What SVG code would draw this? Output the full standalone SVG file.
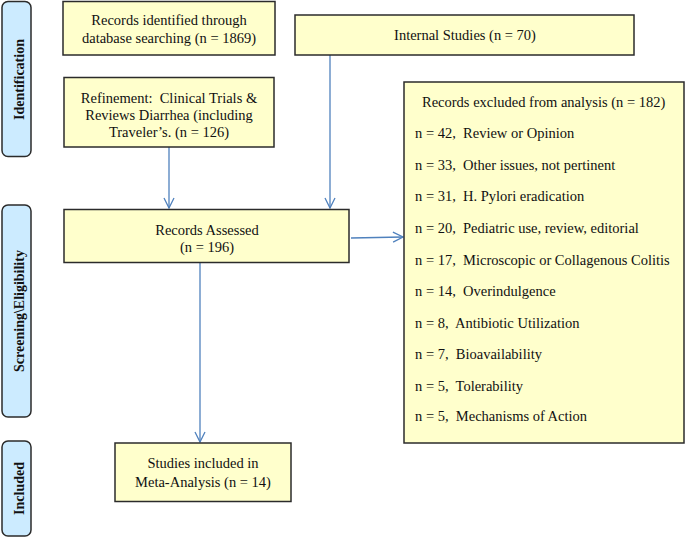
<svg xmlns="http://www.w3.org/2000/svg" width="685" height="538" viewBox="0 0 685 538">
<defs>
<style>
.box{fill:#FFFFCC;stroke:#2b2b2b;stroke-width:1.5}
.side{fill:#CCEBFF;stroke:#2b2b2b;stroke-width:1.5}
.t{font-family:"Liberation Serif","Times New Roman",serif;font-size:14.5px;fill:#111;white-space:pre}
.c{text-anchor:middle}
.s{font-family:"Liberation Serif","Times New Roman",serif;font-size:14px;font-weight:bold;fill:#111;text-anchor:middle}
.a{stroke:#4F81BD;stroke-width:1.3;fill:none;marker-end:url(#ah)}
</style>
<marker id="ah" viewBox="0 0 12 12" refX="11" refY="6" markerWidth="12" markerHeight="12" markerUnits="userSpaceOnUse" orient="auto">
<path d="M1,1 L11,6 L1,11" fill="none" stroke="#4F81BD" stroke-width="1.3"/>
</marker>
</defs>
<rect width="685" height="538" fill="#fff"/>
<g id="side-identification">
<rect class="side" x="2" y="1.5" width="29" height="155" rx="6"/>
<text class="s" transform="translate(23.5,79.5) rotate(-90)">Identification</text>
</g>
<g id="side-screening">
<rect class="side" x="2" y="205" width="29" height="212" rx="6"/>
<text class="s" transform="translate(23.5,311) rotate(-90)">Screening\Eligibility</text>
</g>
<g id="side-included">
<rect class="side" x="2" y="441" width="29" height="95" rx="6"/>
<text class="s" transform="translate(23.5,488.5) rotate(-90)">Included</text>
</g>
<g id="connectors">
<line class="a" x1="169" y1="147" x2="169" y2="208"/>
<line class="a" x1="330" y1="55" x2="330" y2="208"/>
<line class="a" x1="351" y1="238" x2="403" y2="237"/>
<line class="a" x1="200" y1="263" x2="200" y2="442"/>
</g>
<g id="records-identified">
<rect class="box" x="63" y="1.5" width="212" height="53.5"/>
<text class="t c" x="169" y="25">Records identified through</text>
<text class="t c" x="169" y="43">database searching (n = 1869)</text>
</g>
<g id="internal-studies">
<rect class="box" x="295" y="15" width="339" height="40"/>
<text class="t c" x="465" y="40">Internal Studies (n = 70)</text>
</g>
<g id="refinement">
<rect class="box" x="64" y="77.5" width="210" height="69.5"/>
<text class="t c" x="169" y="103">Refinement:  Clinical Trials &amp;</text>
<text class="t c" x="169" y="120">Reviews Diarrhea (including</text>
<text class="t c" x="169" y="137">Traveler’s. (n = 126)</text>
</g>
<g id="records-assessed">
<rect class="box" x="64" y="209.5" width="285" height="53"/>
<text class="t c" x="207" y="235">Records Assessed</text>
<text class="t c" x="207" y="252">(n = 196)</text>
</g>
<g id="records-excluded">
<rect class="box" x="404" y="82" width="280" height="361"/>
<text class="t" x="422" y="107">Records excluded from analysis (n = 182)</text>
<text class="t" x="415" y="138">n = 42,  Review or Opinion</text>
<text class="t" x="415" y="170">n = 33,  Other issues, not pertinent</text>
<text class="t" x="415" y="201">n = 31,  H. Pylori eradication</text>
<text class="t" x="415" y="233">n = 20,  Pediatric use, review, editorial</text>
<text class="t" x="415" y="265">n = 17,  Microscopic or Collagenous Colitis</text>
<text class="t" x="415" y="296">n = 14,  Overindulgence</text>
<text class="t" x="415" y="328">n = 8,  Antibiotic Utilization</text>
<text class="t" x="415" y="359">n = 7,  Bioavailability</text>
<text class="t" x="415" y="391">n = 5,  Tolerability</text>
<text class="t" x="415" y="421">n = 5,  Mechanisms of Action</text>
</g>
<g id="studies-included">
<rect class="box" x="115" y="443" width="176" height="58.5"/>
<text class="t c" x="203" y="468">Studies included in</text>
<text class="t c" x="203" y="487">Meta-Analysis (n = 14)</text>
</g>
</svg>
